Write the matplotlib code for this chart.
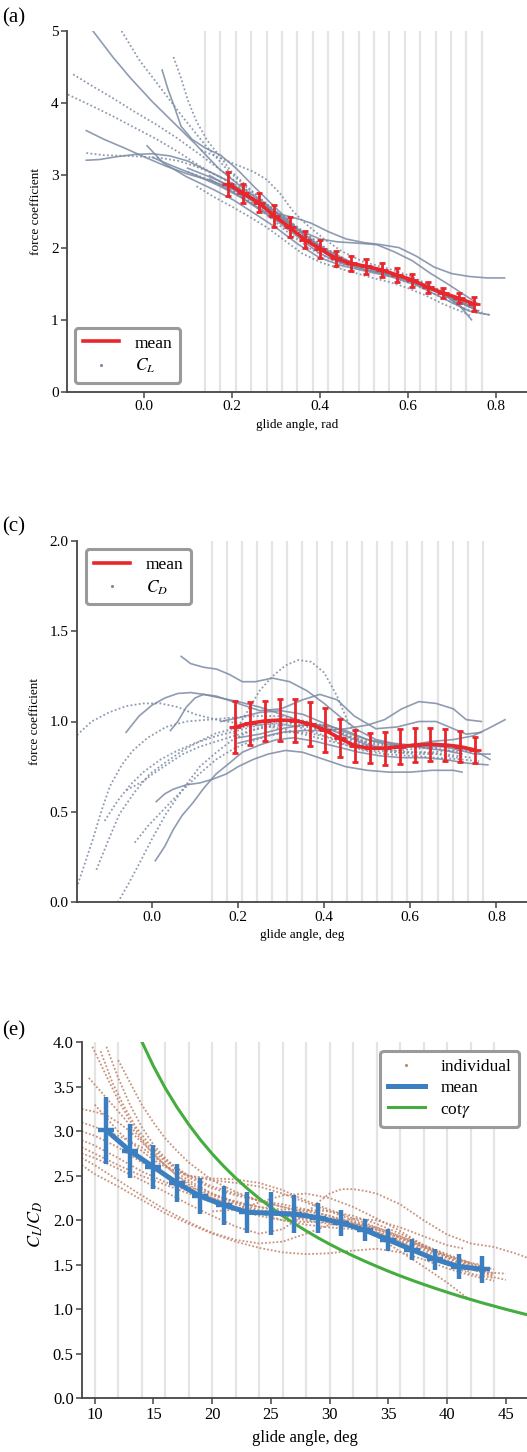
import numpy as np
import matplotlib
matplotlib.use('Agg')
import matplotlib.pyplot as plt
from matplotlib.lines import Line2D

plt.rcParams['font.family'] = ['Liberation Serif', 'DejaVu Serif']
plt.rcParams['mathtext.fontset'] = 'stix'

# angle bins (deg): grey edges and the centres of the averaged points
bin_edges_deg = [8, 10, 12, 14, 16, 18, 20, 22, 24, 26, 28, 30, 32, 34, 36, 38, 40, 42, 44]
bin_centres_deg = [11, 13, 15, 17, 19, 21, 23, 25, 27, 29, 31, 33, 35, 37, 39, 41, 43]

# (a) lift coefficient, mean +- sd per bin
cl_mean = [2.88, 2.75, 2.62, 2.44, 2.28, 2.11, 1.98, 1.85, 1.78, 1.74, 1.69, 1.62, 1.55, 1.45, 1.37, 1.30, 1.22]
cl_err = [0.17, 0.13, 0.13, 0.15, 0.14, 0.12, 0.12, 0.10, 0.10, 0.10, 0.10, 0.10, 0.09, 0.08, 0.07, 0.07, 0.10]

# (c) drag coefficient
cd_mean = [0.968, 0.99, 1.003, 1.008, 1.005, 0.986, 0.953, 0.907, 0.865, 0.852, 0.852, 0.861, 0.87, 0.874, 0.87, 0.861, 0.842]
cd_err = [0.143, 0.12, 0.113, 0.115, 0.118, 0.12, 0.12, 0.106, 0.088, 0.083, 0.092, 0.097, 0.094, 0.09, 0.087, 0.085, 0.072]

# (e) lift to drag ratio
ratio_mean = [3.01, 2.78, 2.60, 2.42, 2.27, 2.17, 2.09, 2.08, 2.07, 2.03, 1.97, 1.89, 1.78, 1.67, 1.56, 1.48, 1.45]
ratio_err = [0.375, 0.30, 0.25, 0.215, 0.20, 0.22, 0.23, 0.24, 0.21, 0.17, 0.146, 0.125, 0.125, 0.12, 0.12, 0.14, 0.15]

cot_angle_deg = [14, 15, 16, 17, 18, 19, 20, 21, 22, 23, 24, 25, 26, 27, 28, 29, 30,
                 31, 32, 33, 34, 35, 36, 37, 38, 39, 40, 41, 42, 43, 44, 45, 46, 47]
cot_value = [4.011, 3.732, 3.487, 3.271, 3.078, 2.904, 2.747, 2.605, 2.475, 2.356, 2.246, 2.145,
             2.050, 1.963, 1.881, 1.804, 1.732, 1.664, 1.600, 1.540, 1.483, 1.428, 1.376, 1.327,
             1.280, 1.235, 1.192, 1.150, 1.111, 1.072, 1.036, 1.000, 0.966, 0.933]

# individual glides, C_L vs glide angle (rad)
cl_angle = [
    [-0.115, -0.07, -0.03, 0.02, 0.07, 0.12, 0.17, 0.22, 0.28, 0.34, 0.40, 0.46, 0.52, 0.58, 0.64, 0.70, 0.75],
    [-0.05, -0.01, 0.04, 0.09, 0.14, 0.19, 0.24, 0.30, 0.36, 0.42, 0.48, 0.54, 0.60, 0.66, 0.72, 0.76],
    [0.068, 0.085, 0.10, 0.12, 0.145, 0.175, 0.20, 0.24, 0.29, 0.34, 0.40, 0.46, 0.52, 0.58, 0.64, 0.70, 0.75],
    [0.042, 0.055, 0.07, 0.085, 0.11, 0.14, 0.175, 0.21, 0.25, 0.30, 0.36, 0.42, 0.48, 0.54, 0.60, 0.66, 0.72, 0.755],
    [-0.172, -0.12, -0.07, -0.02, 0.03, 0.08, 0.13, 0.19, 0.25, 0.31, 0.37, 0.43, 0.49, 0.55, 0.61, 0.67, 0.73],
    [-0.16, -0.12, -0.07, -0.02, 0.03, 0.08, 0.13, 0.18, 0.23, 0.29, 0.35, 0.41, 0.47, 0.53, 0.59, 0.65, 0.71, 0.75],
    [-0.13, -0.09, -0.04, 0.0, 0.05, 0.10, 0.15, 0.20, 0.26, 0.32, 0.38, 0.44, 0.50, 0.56, 0.62, 0.68, 0.74],
    [-0.13, -0.10, -0.06, -0.02, 0.02, 0.06, 0.10, 0.14, 0.19, 0.24, 0.30, 0.36, 0.42, 0.48, 0.54, 0.60, 0.66, 0.70, 0.73],
    [-0.13, -0.09, -0.04, 0.0, 0.04, 0.08, 0.12, 0.16, 0.20, 0.25, 0.30, 0.35, 0.40, 0.45, 0.50, 0.56, 0.62, 0.68, 0.74],
    [0.008, 0.045, 0.098, 0.16, 0.204, 0.25, 0.30, 0.35, 0.40, 0.45, 0.50, 0.56, 0.62, 0.68, 0.74, 0.785],
    [0.12, 0.16, 0.20, 0.24, 0.28, 0.32, 0.36, 0.40, 0.44, 0.48, 0.52, 0.56, 0.60, 0.64, 0.68, 0.72, 0.745],
    [0.13, 0.17, 0.21, 0.25, 0.28, 0.31, 0.34, 0.37, 0.41, 0.45, 0.50, 0.55, 0.60, 0.65, 0.70, 0.75],
    [0.15, 0.20, 0.25, 0.30, 0.35, 0.38, 0.42, 0.46, 0.50, 0.54, 0.58, 0.62, 0.66, 0.70, 0.74, 0.78, 0.82],
    [0.10, 0.15, 0.20, 0.25, 0.30, 0.35, 0.40, 0.44, 0.49, 0.53, 0.57, 0.61, 0.65, 0.69, 0.73, 0.76],
    [0.15, 0.20, 0.25, 0.30, 0.35, 0.40, 0.45, 0.50, 0.55, 0.60, 0.65, 0.69, 0.72, 0.745],
    [0.18, 0.23, 0.28, 0.33, 0.38, 0.43, 0.48, 0.53, 0.58, 0.63, 0.68, 0.72, 0.755, 0.785],
    [0.02, 0.07, 0.12, 0.17, 0.22, 0.27, 0.32, 0.37, 0.42, 0.47, 0.52, 0.57, 0.62, 0.67, 0.72, 0.76],
    [0.10, 0.14, 0.18, 0.22, 0.26, 0.30, 0.34, 0.38, 0.43, 0.48, 0.53, 0.58, 0.63, 0.68, 0.73, 0.77],
]
cl_value = [
    [5.0, 4.64, 4.35, 4.02, 3.72, 3.42, 3.10, 2.85, 2.58, 2.30, 2.02, 1.82, 1.70, 1.60, 1.45, 1.30, 1.17],
    [5.0, 4.60, 4.20, 3.80, 3.42, 3.08, 2.80, 2.50, 2.20, 1.95, 1.78, 1.68, 1.58, 1.45, 1.28, 1.18],
    [4.64, 4.35, 4.05, 3.75, 3.48, 3.25, 3.05, 2.82, 2.55, 2.28, 1.98, 1.80, 1.70, 1.62, 1.48, 1.32, 1.20],
    [4.46, 4.20, 3.95, 3.68, 3.50, 3.38, 3.28, 3.10, 2.85, 2.55, 2.20, 1.92, 1.76, 1.68, 1.58, 1.42, 1.24, 1.14],
    [4.12, 3.97, 3.82, 3.66, 3.50, 3.32, 3.12, 2.92, 2.70, 2.45, 2.12, 1.88, 1.75, 1.67, 1.55, 1.38, 1.20],
    [4.40, 4.25, 4.07, 3.88, 3.70, 3.50, 3.28, 3.05, 2.82, 2.55, 2.28, 2.00, 1.80, 1.68, 1.60, 1.45, 1.28, 1.18],
    [3.62, 3.50, 3.37, 3.26, 3.13, 3.02, 2.93, 2.82, 2.60, 2.35, 2.05, 1.82, 1.70, 1.62, 1.50, 1.35, 1.18],
    [3.21, 3.22, 3.26, 3.29, 3.30, 3.27, 3.20, 3.08, 2.93, 2.72, 2.48, 2.20, 1.92, 1.76, 1.68, 1.58, 1.42, 1.28, 1.14],
    [3.31, 3.28, 3.27, 3.26, 3.24, 3.20, 3.12, 3.02, 2.90, 2.72, 2.50, 2.28, 2.05, 1.85, 1.73, 1.64, 1.52, 1.36, 1.20],
    [3.41, 3.17, 2.98, 2.80, 2.66, 2.48, 2.28, 2.05, 1.86, 1.75, 1.68, 1.60, 1.48, 1.30, 1.12, 1.07],
    [2.85, 2.70, 2.57, 2.43, 2.28, 2.10, 1.92, 1.80, 1.72, 1.65, 1.58, 1.52, 1.44, 1.34, 1.22, 1.12, 1.05],
    [3.35, 3.25, 3.15, 3.05, 2.94, 2.75, 2.50, 2.32, 2.12, 1.95, 1.80, 1.72, 1.62, 1.48, 1.30, 1.15],
    [3.00, 2.82, 2.65, 2.48, 2.40, 2.34, 2.22, 2.12, 2.07, 2.04, 2.00, 1.88, 1.73, 1.64, 1.60, 1.58, 1.58],
    [3.10, 2.98, 2.85, 2.68, 2.45, 2.25, 2.12, 2.08, 2.06, 2.04, 1.94, 1.82, 1.65, 1.50, 1.34, 1.22],
    [2.95, 2.78, 2.58, 2.38, 2.15, 1.92, 1.78, 1.70, 1.63, 1.55, 1.43, 1.32, 1.18, 1.00],
    [2.88, 2.68, 2.45, 2.20, 1.98, 1.82, 1.72, 1.66, 1.56, 1.45, 1.30, 1.18, 1.10, 1.07],
    [3.25, 3.12, 3.00, 2.86, 2.70, 2.52, 2.32, 2.10, 1.92, 1.78, 1.70, 1.62, 1.52, 1.40, 1.24, 1.12],
    [3.05, 2.96, 2.85, 2.72, 2.58, 2.42, 2.24, 2.06, 1.88, 1.76, 1.69, 1.61, 1.50, 1.37, 1.22, 1.10],
]
cl_solid = [True, False, False, True, False, False, True, True, False, True, False, False, True, True, True, False, True, False]

# individual glides, C_D vs glide angle (rad)
cd_angle = [
    [0.068, 0.09, 0.12, 0.15, 0.18, 0.21, 0.24, 0.28, 0.32, 0.36, 0.40, 0.44, 0.48, 0.52, 0.56, 0.60, 0.64, 0.68, 0.72],
    [0.19, 0.22, 0.25, 0.28, 0.31, 0.34, 0.37, 0.40, 0.43, 0.455, 0.48, 0.52, 0.56, 0.60, 0.65, 0.70, 0.75],
    [-0.174, -0.14, -0.10, -0.06, -0.02, 0.02, 0.06, 0.10, 0.15, 0.20, 0.25, 0.30, 0.35, 0.40, 0.45, 0.50, 0.56, 0.62, 0.68, 0.74],
    [-0.06, -0.03, 0.0, 0.03, 0.06, 0.09, 0.12, 0.16, 0.20, 0.25, 0.30, 0.35, 0.40, 0.45, 0.50, 0.55, 0.60, 0.65, 0.70, 0.75, 0.785],
    [0.043, 0.06, 0.08, 0.10, 0.12, 0.15, 0.20, 0.25, 0.30, 0.35, 0.39, 0.43, 0.47, 0.52, 0.57, 0.62, 0.66, 0.70, 0.73, 0.765],
    [-0.172, -0.155, -0.137, -0.118, -0.098, -0.07, -0.044, -0.01, 0.033, 0.08, 0.13, 0.18, 0.24, 0.30, 0.36, 0.42, 0.48, 0.54, 0.60, 0.66, 0.72],
    [-0.079, -0.055, -0.029, 0.0, 0.033, 0.07, 0.111, 0.15, 0.188, 0.23, 0.27, 0.32, 0.37, 0.42, 0.47, 0.52, 0.57, 0.62, 0.67, 0.72, 0.76],
    [-0.129, -0.10, -0.075, -0.04, -0.005, 0.035, 0.072, 0.11, 0.149, 0.19, 0.24, 0.29, 0.34, 0.39, 0.44, 0.49, 0.54, 0.60, 0.66, 0.72, 0.76],
    [0.008, 0.03, 0.049, 0.07, 0.095, 0.12, 0.149, 0.18, 0.21, 0.25, 0.29, 0.33, 0.38, 0.43, 0.48, 0.53, 0.58, 0.63, 0.68, 0.73, 0.78],
    [-0.04, -0.01, 0.018, 0.05, 0.08, 0.11, 0.149, 0.19, 0.23, 0.27, 0.31, 0.35, 0.40, 0.45, 0.50, 0.55, 0.60, 0.65, 0.70, 0.75],
    [0.01, 0.03, 0.049, 0.08, 0.111, 0.14, 0.173, 0.20, 0.235, 0.27, 0.31, 0.35, 0.40, 0.45, 0.50, 0.55, 0.60, 0.65, 0.70, 0.72],
    [-0.059, -0.02, 0.002, 0.04, 0.072, 0.11, 0.15, 0.19, 0.23, 0.27, 0.31, 0.36, 0.41, 0.46, 0.51, 0.56, 0.61, 0.66, 0.71],
    [0.20, 0.25, 0.30, 0.35, 0.40, 0.45, 0.50, 0.54, 0.58, 0.62, 0.66, 0.70, 0.73, 0.765],
    [0.20, 0.25, 0.30, 0.35, 0.40, 0.45, 0.50, 0.55, 0.60, 0.65, 0.70, 0.745, 0.78, 0.82],
    [0.16, 0.20, 0.25, 0.30, 0.35, 0.40, 0.45, 0.50, 0.55, 0.60, 0.65, 0.70, 0.75, 0.785],
    [-0.11, -0.08, -0.05, -0.02, 0.02, 0.06, 0.10, 0.15, 0.20, 0.25, 0.30, 0.35, 0.40, 0.45, 0.50, 0.55, 0.60, 0.65, 0.70, 0.74],
]
cd_value = [
    [1.36, 1.32, 1.30, 1.29, 1.26, 1.22, 1.22, 1.24, 1.22, 1.17, 1.10, 1.02, 0.95, 0.90, 0.88, 0.87, 0.85, 0.84, 0.82],
    [0.93, 1.05, 1.17, 1.25, 1.31, 1.34, 1.33, 1.27, 1.14, 1.00, 0.90, 0.86, 0.86, 0.87, 0.88, 0.86, 0.82],
    [0.925, 1.00, 1.05, 1.085, 1.10, 1.10, 1.08, 1.04, 1.01, 0.99, 0.98, 0.96, 0.93, 0.90, 0.87, 0.84, 0.83, 0.83, 0.82, 0.80],
    [0.94, 1.03, 1.09, 1.13, 1.155, 1.16, 1.15, 1.13, 1.11, 1.08, 1.04, 1.00, 0.97, 0.92, 0.87, 0.85, 0.86, 0.87, 0.85, 0.82, 0.82],
    [0.95, 1.00, 1.08, 1.13, 1.15, 1.14, 1.10, 1.06, 1.07, 1.12, 1.15, 1.12, 1.03, 0.96, 0.97, 1.00, 1.00, 0.96, 0.93, 0.94],
    [0.10, 0.22, 0.35, 0.50, 0.64, 0.76, 0.84, 0.91, 0.97, 1.00, 1.01, 1.02, 1.03, 1.03, 1.00, 0.95, 0.90, 0.87, 0.86, 0.85, 0.83],
    [0.0, 0.10, 0.216, 0.35, 0.49, 0.62, 0.75, 0.83, 0.90, 0.95, 0.98, 0.99, 0.97, 0.93, 0.88, 0.85, 0.84, 0.85, 0.86, 0.85, 0.83],
    [0.18, 0.35, 0.49, 0.61, 0.71, 0.78, 0.84, 0.89, 0.935, 0.96, 0.98, 0.99, 0.97, 0.93, 0.88, 0.84, 0.82, 0.81, 0.80, 0.79, 0.78],
    [0.23, 0.31, 0.40, 0.48, 0.55, 0.63, 0.71, 0.77, 0.83, 0.87, 0.90, 0.91, 0.89, 0.86, 0.83, 0.81, 0.80, 0.80, 0.79, 0.77, 0.76],
    [0.33, 0.42, 0.49, 0.57, 0.64, 0.71, 0.79, 0.85, 0.89, 0.92, 0.94, 0.94, 0.92, 0.89, 0.86, 0.84, 0.83, 0.83, 0.84, 0.84],
    [0.557, 0.60, 0.625, 0.65, 0.66, 0.68, 0.71, 0.75, 0.79, 0.82, 0.84, 0.83, 0.79, 0.75, 0.73, 0.72, 0.72, 0.73, 0.73, 0.72],
    [0.62, 0.67, 0.71, 0.77, 0.82, 0.86, 0.89, 0.92, 0.95, 0.97, 0.98, 0.97, 0.94, 0.90, 0.86, 0.83, 0.82, 0.82, 0.80],
    [0.88, 0.91, 0.94, 0.95, 0.95, 0.96, 0.98, 1.01, 1.07, 1.11, 1.10, 1.07, 1.01, 1.00],
    [0.91, 0.93, 0.96, 0.98, 0.98, 0.95, 0.90, 0.87, 0.87, 0.89, 0.90, 0.92, 0.96, 1.01],
    [1.00, 1.02, 1.05, 1.06, 1.04, 0.99, 0.94, 0.90, 0.88, 0.86, 0.86, 0.87, 0.84, 0.79],
    [0.45, 0.56, 0.65, 0.72, 0.79, 0.84, 0.88, 0.92, 0.95, 0.98, 1.00, 1.00, 0.98, 0.93, 0.88, 0.86, 0.87, 0.88, 0.87, 0.84],
]
cd_solid = [True, False, False, True, True, False, False, False, True, False, True, False, True, True, True, False]

# individual glides, C_L/C_D vs glide angle (deg)
ratio_angle = [
    [9.8, 11, 12, 13, 14, 15, 16, 17, 18, 20, 22, 24, 26, 28, 30, 32, 34, 36, 38, 40, 42, 43],
    [10.5, 11.5, 12.5, 13.5, 14.5, 16, 18, 20, 22, 24, 26, 28, 30, 32, 34, 36, 38, 40, 42],
    [8.9, 10, 11, 12, 13, 14, 15, 16, 17, 18, 19, 20, 22, 24, 26, 28, 30, 32, 34, 36, 38, 40, 42, 44],
    [8.9, 10, 12, 14, 16, 18, 20, 22, 24, 26, 28, 30, 32, 34, 36, 38, 40, 42, 44],
    [8.9, 10, 12, 14, 16, 18, 20, 22, 24, 26, 28, 30, 32, 34, 36, 38, 40, 42, 44, 45],
    [8.9, 10, 12, 14, 16, 18, 20, 22, 24, 26, 28, 30, 32, 34, 36, 38, 40, 42, 44],
    [8.9, 10, 12, 14, 16, 18, 20, 22, 24, 26, 28, 29, 30, 31, 32, 33, 34, 36, 38, 40, 42, 44, 46, 46.8],
    [10, 11, 12, 13, 14, 15, 16, 17, 18, 20, 22, 24, 26, 28, 30, 32, 34, 36, 38, 40, 42, 43],
    [8.9, 10, 12, 14, 16, 18, 20, 22, 24, 26, 28, 30, 32, 34, 36, 38, 40, 42, 43],
    [8.9, 10, 12, 14, 16, 18, 20, 22, 24, 26, 28, 30, 32, 34, 36, 38, 40, 41.5],
    [11, 12, 13, 14, 15, 16, 17, 18, 20, 22, 24, 26, 28, 30, 32, 34, 36, 38, 40, 42],
    [9.5, 10.5, 11.5, 12.5, 13.5, 14.5, 15.5, 17, 19, 21, 23, 25, 27, 29, 31, 33, 35, 37, 39, 41, 43, 45],
    [8.9, 10, 12, 14, 16, 18, 20, 22, 24, 26, 28, 30, 32, 34, 36, 38, 40, 42, 44],
    [12, 13, 14, 15, 16, 17, 18, 19, 20, 22, 24, 26, 28, 30, 32, 34, 36, 38, 40, 42, 44],
    [20, 22, 24, 26, 28, 30, 32, 34, 36, 38, 40, 42],
]
ratio_value = [
    [3.95, 3.62, 3.35, 3.12, 2.92, 2.78, 2.66, 2.57, 2.50, 2.45, 2.42, 2.38, 2.30, 2.20, 2.10, 2.00, 1.90, 1.80, 1.70, 1.60, 1.50, 1.45],
    [3.90, 3.55, 3.28, 3.05, 2.88, 2.68, 2.50, 2.38, 2.30, 2.22, 2.15, 2.08, 2.00, 1.93, 1.84, 1.74, 1.62, 1.52, 1.42],
    [3.25, 3.22, 3.18, 3.10, 3.00, 2.88, 2.75, 2.62, 2.50, 2.40, 2.32, 2.25, 2.15, 2.08, 2.00, 1.95, 1.92, 1.90, 1.86, 1.78, 1.68, 1.58, 1.48, 1.40],
    [3.00, 2.95, 2.82, 2.65, 2.50, 2.38, 2.28, 2.20, 2.12, 2.06, 2.00, 1.96, 1.92, 1.85, 1.76, 1.66, 1.55, 1.46, 1.38],
    [2.82, 2.75, 2.62, 2.50, 2.40, 2.30, 2.20, 2.12, 2.05, 2.00, 1.98, 1.98, 1.96, 1.90, 1.80, 1.70, 1.58, 1.46, 1.36, 1.33],
    [2.62, 2.52, 2.38, 2.23, 2.08, 1.96, 1.85, 1.76, 1.69, 1.64, 1.62, 1.63, 1.66, 1.68, 1.64, 1.56, 1.46, 1.38, 1.32],
    [2.75, 2.70, 2.58, 2.45, 2.32, 2.18, 2.05, 1.93, 1.85, 1.90, 2.08, 2.20, 2.30, 2.35, 2.35, 2.33, 2.30, 2.18, 2.00, 1.84, 1.74, 1.70, 1.62, 1.58],
    [3.30, 3.15, 3.00, 2.88, 2.78, 2.68, 2.60, 2.55, 2.50, 2.47, 2.46, 2.42, 2.34, 2.22, 2.12, 2.02, 1.92, 1.82, 1.72, 1.62, 1.52, 1.48],
    [2.90, 2.84, 2.70, 2.55, 2.43, 2.33, 2.25, 2.18, 2.10, 2.05, 2.02, 2.00, 1.97, 1.92, 1.82, 1.70, 1.60, 1.52, 1.50],
    [2.70, 2.62, 2.45, 2.28, 2.12, 1.98, 1.86, 1.78, 1.74, 1.76, 1.85, 1.95, 2.02, 2.00, 1.92, 1.82, 1.72, 1.68],
    [3.95, 3.60, 3.30, 3.05, 2.85, 2.70, 2.58, 2.48, 2.36, 2.28, 2.22, 2.18, 2.12, 2.05, 1.95, 1.82, 1.65, 1.48, 1.30, 1.10],
    [3.60, 3.45, 3.30, 3.15, 2.98, 2.82, 2.68, 2.50, 2.35, 2.25, 2.18, 2.12, 2.08, 2.05, 2.00, 1.92, 1.80, 1.68, 1.56, 1.48, 1.42, 1.40],
    [3.10, 3.05, 2.95, 2.82, 2.62, 2.45, 2.30, 2.20, 2.15, 2.12, 2.12, 2.10, 2.05, 1.96, 1.85, 1.72, 1.60, 1.50, 1.45],
    [3.80, 3.55, 3.30, 3.10, 2.92, 2.78, 2.65, 2.55, 2.45, 2.32, 2.22, 2.15, 2.10, 2.05, 1.98, 1.88, 1.76, 1.62, 1.50, 1.40, 1.35],
    [2.10, 2.12, 2.20, 2.28, 2.30, 2.25, 2.15, 2.02, 1.88, 1.72, 1.60, 1.52],
]

FIG_W, FIG_H = 527, 1452
SLATE = '#7b8aa4'
BROWN = '#c4866f'
RED = '#e8262b'
BLUE = '#3b7fc0'
GREEN = '#45ad3f'
SPINE = '#444444'

fig = plt.figure(figsize=(FIG_W / 100, FIG_H / 100), dpi=100)


def px_axes(left, top, bottom):
    # pixel box -> figure fraction, axes run to the right edge of the figure
    return fig.add_axes([left / FIG_W, 1 - bottom / FIG_H, 1 - left / FIG_W, (bottom - top) / FIG_H])


def style(ax, tick_size):
    for side in ['top', 'right']:
        ax.spines[side].set_visible(False)
    for side in ['left', 'bottom']:
        ax.spines[side].set_color(SPINE)
        ax.spines[side].set_linewidth(1.3)
    ax.tick_params(direction='out', length=4, width=1.1, color=SPINE, labelsize=tick_size, pad=2)


def grey_bins(ax, edges):
    for e in edges:
        ax.axvline(e, color='#e4e4e4', lw=1.6, zorder=0)


def legend(ax, handles, labels, **kw):
    leg = ax.legend(handles, labels, fontsize=12.5, fancybox=True, framealpha=1,
                    handlelength=2.1, handletextpad=0.9, borderpad=0.45, labelspacing=0.3,
                    borderaxespad=0, **kw)
    leg.get_frame().set_edgecolor('#9a9a9a')
    leg.get_frame().set_linewidth(2.2)
    return leg


def mean_with_bars(ax, x, y, err):
    eb = ax.errorbar(x, y, yerr=err, color=RED, lw=2.6, elinewidth=2, capsize=2, capthick=1,
                     marker='_', ms=8, mew=2, zorder=3)
    for cap in eb[1]:
        cap.set_color('#f4a6a6')


bin_edges_rad = np.deg2rad(bin_edges_deg)
bin_centres_rad = np.deg2rad(bin_centres_deg)

# ---- (a) lift coefficient
ax_a = px_axes(67, 31, 392)
style(ax_a, 11)
grey_bins(ax_a, bin_edges_rad)
for xs, ys, solid in zip(cl_angle, cl_value, cl_solid):
    ax_a.plot(xs, ys, color=SLATE, lw=1.2 if solid else 1.3, alpha=0.85,
              ls='-' if solid else (0, (1, 1.3)), zorder=1)
mean_with_bars(ax_a, bin_centres_rad, cl_mean, cl_err)
ax_a.set_xlim(-0.174, 0.871)
ax_a.set_ylim(0, 5)
ax_a.set_xticks([0.0, 0.2, 0.4, 0.6, 0.8])
ax_a.set_xticklabels(['0.0', '0.2', '0.4', '0.6', '0.8'])
ax_a.set_yticks([0, 1, 2, 3, 4, 5])
ax_a.set_xlabel('glide angle, rad', fontsize=9.5, labelpad=4)
ax_a.set_ylabel('force coefficient', fontsize=9.5)
ax_a.yaxis.set_label_coords(-0.055, 0.5)
legend(ax_a, [Line2D([], [], color=RED, lw=2.6),
              Line2D([], [], ls='none', marker='.', ms=2.5, color=SLATE)],
       ['mean', '$C_L$'], loc='lower left', bbox_to_anchor=(0.017, 0.025))

# ---- (c) drag coefficient
ax_c = px_axes(77, 540.7, 902.3)
style(ax_c, 11)
grey_bins(ax_c, bin_edges_rad)
for xs, ys, solid in zip(cd_angle, cd_value, cd_solid):
    ax_c.plot(xs, ys, color=SLATE, lw=1.2 if solid else 1.3, alpha=0.85,
              ls='-' if solid else (0, (1, 1.3)), zorder=1)
mean_with_bars(ax_c, bin_centres_rad, cd_mean, cd_err)
ax_c.set_xlim(-0.174, 0.871)
ax_c.set_ylim(0, 2.0)
ax_c.set_xticks([0.0, 0.2, 0.4, 0.6, 0.8])
ax_c.set_xticklabels(['0.0', '0.2', '0.4', '0.6', '0.8'])
ax_c.set_yticks([0.0, 0.5, 1.0, 1.5, 2.0])
ax_c.set_yticklabels(['0.0', '0.5', '1.0', '1.5', '2.0'])
ax_c.set_xlabel('glide angle, deg', fontsize=9.5, labelpad=4)
ax_c.set_ylabel('force coefficient', fontsize=9.5)
ax_c.yaxis.set_label_coords(-0.08, 0.5)
legend(ax_c, [Line2D([], [], color=RED, lw=2.6),
              Line2D([], [], ls='none', marker='.', ms=2.5, color=SLATE)],
       ['mean', '$C_D$'], loc='upper left', bbox_to_anchor=(0.02, 0.977))

# ---- (e) lift to drag ratio
ax_e = px_axes(82, 1042.3, 1398.3)
style(ax_e, 12)
grey_bins(ax_e, bin_edges_deg)
for xs, ys in zip(ratio_angle, ratio_value):
    ax_e.plot(xs, ys, color=BROWN, lw=1.3, alpha=0.9, ls=(0, (1, 1.1)), zorder=1)
ax_e.plot(cot_angle_deg, cot_value, color=GREEN, lw=2.2, zorder=2)
ax_e.errorbar(bin_centres_deg, ratio_mean, yerr=ratio_err, color=BLUE, lw=3.6, elinewidth=3.2,
              marker='_', ms=12, mew=3.2, zorder=3)
ax_e.set_xlim(8.92, 46.8)
ax_e.set_ylim(0, 4.0)
ax_e.set_xticks([10, 15, 20, 25, 30, 35, 40, 45])
ax_e.set_yticks([0.0, 0.5, 1.0, 1.5, 2.0, 2.5, 3.0, 3.5, 4.0])
ax_e.set_yticklabels(['0.0', '0.5', '1.0', '1.5', '2.0', '2.5', '3.0', '3.5', '4.0'])
ax_e.set_xlabel('glide angle, deg', fontsize=12, labelpad=5)
ax_e.set_ylabel('$C_L/C_D$', fontsize=13)
ax_e.yaxis.set_label_coords(-0.083, 0.49)
legend(ax_e, [Line2D([], [], ls='none', marker='.', ms=2.5, color=BROWN),
              Line2D([], [], color=BLUE, lw=3.6),
              Line2D([], [], color=GREEN, lw=2.2)],
       ['individual', 'mean', r'cot$\gamma$'], loc='upper right', bbox_to_anchor=(0.982, 0.976))

# panel letters
fig.text(0.004, 1 - 18 / FIG_H, '(a)', fontsize=15, va='center')
fig.text(0.004, 1 - 527 / FIG_H, '(c)', fontsize=15, va='center')
fig.text(0.004, 1 - 1031 / FIG_H, '(e)', fontsize=15, va='center')

fig.savefig('out.png', dpi=100)
